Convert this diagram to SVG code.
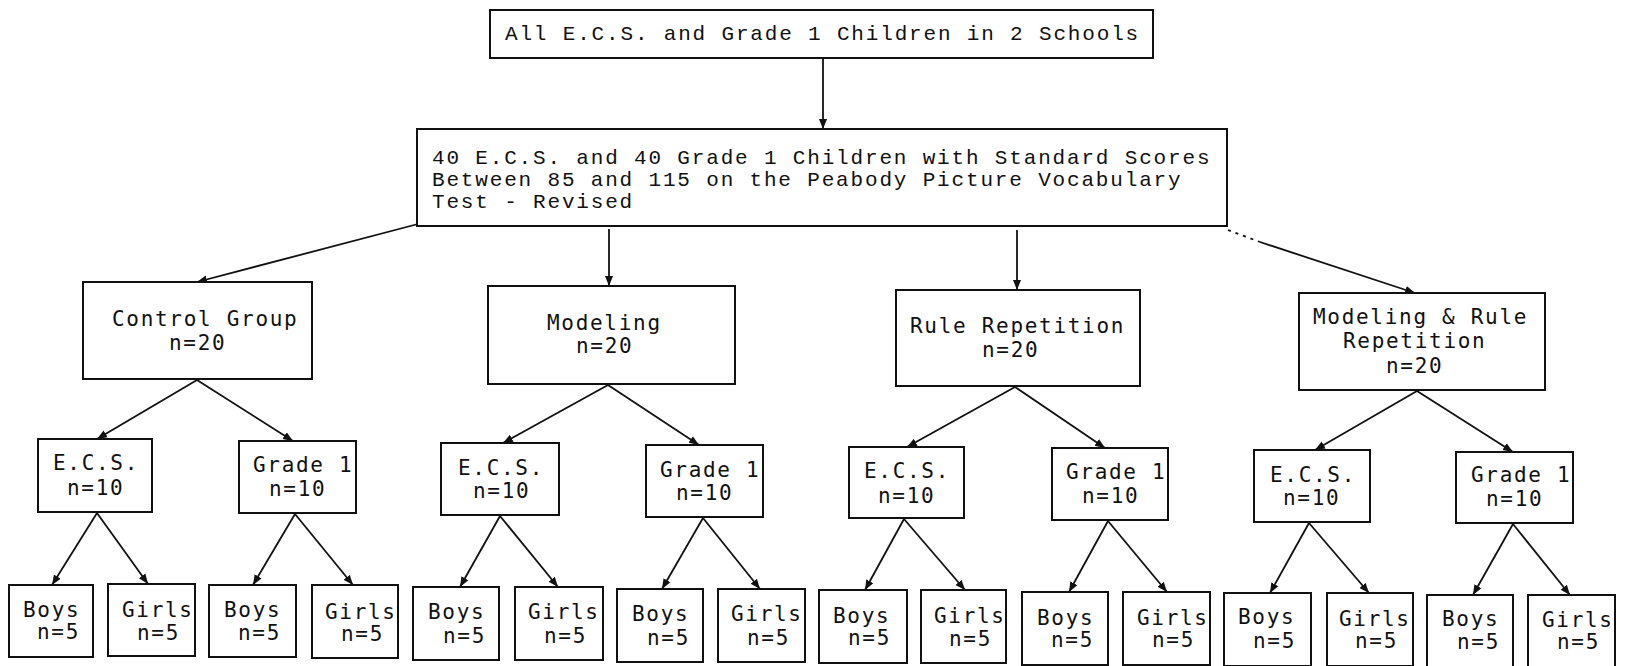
<svg xmlns="http://www.w3.org/2000/svg" width="1625" height="666" viewBox="0 0 1625 666">
<defs>
<marker id="ah" markerUnits="userSpaceOnUse" markerWidth="10" markerHeight="10" viewBox="0 0 10 10" refX="10" refY="5" orient="auto">
<path d="M0,1 L10,5 L0,9 Z" fill="#111"/>
</marker>
</defs>
<style>
rect{fill:#fff;stroke:#111;stroke-width:2}
.c line{stroke:#111;stroke-width:1.8;marker-end:url(#ah)}
.c line.nd{marker-end:none;stroke-dasharray:3 5}
.t{font-family:"Liberation Mono","Courier New",monospace;font-size:21px;letter-spacing:1.83px;fill:#111}
.s{font-family:"DejaVu Sans Mono","Liberation Mono",monospace;font-size:21px;letter-spacing:1.7px;fill:#111}
</style>
<rect x="0" y="0" width="1625" height="666" style="stroke:none"/>
<g class="c" id="connectors">
<line x1="823" y1="58" x2="823" y2="129"/>
<line x1="418" y1="224" x2="197" y2="282"/>
<line x1="609" y1="229" x2="609" y2="286"/>
<line x1="1017" y1="230" x2="1017" y2="290"/>
<line class="nd" x1="1228" y1="230" x2="1260" y2="242"/>
<line x1="1260" y1="242" x2="1415" y2="293"/>
<line x1="197" y1="380" x2="97" y2="439"/>
<line x1="197" y1="380" x2="293" y2="441"/>
<line x1="608" y1="385" x2="503" y2="443"/>
<line x1="608" y1="385" x2="699" y2="445"/>
<line x1="1015" y1="387" x2="907" y2="447"/>
<line x1="1015" y1="387" x2="1105" y2="448"/>
<line x1="1417" y1="391" x2="1315" y2="450"/>
<line x1="1417" y1="391" x2="1513" y2="452"/>
<line x1="97" y1="513" x2="52" y2="585"/>
<line x1="97" y1="513" x2="148" y2="584"/>
<line x1="295" y1="514" x2="253" y2="585"/>
<line x1="295" y1="514" x2="353" y2="585"/>
<line x1="500" y1="516" x2="460" y2="587"/>
<line x1="500" y1="516" x2="558" y2="587"/>
<line x1="703" y1="518" x2="662" y2="589"/>
<line x1="703" y1="518" x2="760" y2="589"/>
<line x1="904" y1="519" x2="865" y2="590"/>
<line x1="904" y1="519" x2="965" y2="590"/>
<line x1="1108" y1="521" x2="1069" y2="592"/>
<line x1="1108" y1="521" x2="1167" y2="592"/>
<line x1="1309" y1="523" x2="1270" y2="593"/>
<line x1="1309" y1="523" x2="1369" y2="593"/>
<line x1="1513" y1="524" x2="1473" y2="595"/>
<line x1="1513" y1="524" x2="1570" y2="595"/>
</g>
<g id="all"><rect x="490" y="10" width="663" height="48"/><text class="t" x="505" y="40">All E.C.S. and Grade 1 Children in 2 Schools</text></g>
<g id="selected"><rect x="417" y="129" width="810" height="97"/>
<text class="t" x="432" y="164">40 E.C.S. and 40 Grade 1 Children with Standard Scores</text>
<text class="t" x="432" y="186">Between 85 and 115 on the Peabody Picture Vocabulary</text>
<text class="t" x="432" y="208">Test - Revised</text></g>
<g id="control"><rect x="83" y="282" width="229" height="97"/><text class="s" x="112" y="326">Control Group</text><text class="s" x="169" y="350">n=20</text></g>
<g id="modeling"><rect x="488" y="286" width="247" height="98"/><text class="s" x="547" y="330">Modeling</text><text class="s" x="576" y="353">n=20</text></g>
<g id="rule"><rect x="896" y="290" width="244" height="96"/><text class="s" x="910" y="333">Rule Repetition</text><text class="s" x="982" y="357">n=20</text></g>
<g id="modrule"><rect x="1299" y="293" width="246" height="97"/><text class="s" x="1313" y="324">Modeling &amp; Rule</text><text class="s" x="1343" y="348">Repetition</text><text class="s" x="1386" y="373">n=20</text></g>
<g id="ecs1"><rect x="38" y="439" width="114" height="73"/><text class="s" x="53" y="470">E.C.S.</text><text class="s" x="67" y="495">n=10</text></g>
<g id="g1a"><rect x="239" y="441" width="117" height="72"/><text class="s" x="253" y="472">Grade 1</text><text class="s" x="269" y="496">n=10</text></g>
<g id="ecs2"><rect x="441" y="443" width="118" height="72"/><text class="s" x="458" y="475">E.C.S.</text><text class="s" x="473" y="498">n=10</text></g>
<g id="g1b"><rect x="646" y="445" width="117" height="72"/><text class="s" x="660" y="477">Grade 1</text><text class="s" x="676" y="500">n=10</text></g>
<g id="ecs3"><rect x="849" y="447" width="115" height="71"/><text class="s" x="864" y="478">E.C.S.</text><text class="s" x="878" y="503">n=10</text></g>
<g id="g1c"><rect x="1052" y="448" width="116" height="72"/><text class="s" x="1066" y="479">Grade 1</text><text class="s" x="1082" y="503">n=10</text></g>
<g id="ecs4"><rect x="1254" y="450" width="116" height="72"/><text class="s" x="1270" y="482">E.C.S.</text><text class="s" x="1283" y="505">n=10</text></g>
<g id="g1d"><rect x="1456" y="452" width="117" height="71"/><text class="s" x="1471" y="482">Grade 1</text><text class="s" x="1486" y="506">n=10</text></g>
<g id="l1"><rect x="9" y="585" width="84" height="72"/><text class="s" x="23" y="617">Boys</text><text class="s" x="37" y="639">n=5</text></g>
<g id="l2"><rect x="108" y="584" width="87" height="72"/><text class="s" x="122" y="617">Girls</text><text class="s" x="137" y="640">n=5</text></g>
<g id="l3"><rect x="209" y="585" width="87" height="72"/><text class="s" x="224" y="617">Boys</text><text class="s" x="238" y="640">n=5</text></g>
<g id="l4"><rect x="312" y="585" width="86" height="73"/><text class="s" x="325" y="619">Girls</text><text class="s" x="341" y="641">n=5</text></g>
<g id="l5"><rect x="413" y="587" width="86" height="73"/><text class="s" x="428" y="619">Boys</text><text class="s" x="443" y="643">n=5</text></g>
<g id="l6"><rect x="515" y="587" width="88" height="73"/><text class="s" x="528" y="619">Girls</text><text class="s" x="544" y="643">n=5</text></g>
<g id="l7"><rect x="617" y="589" width="86" height="73"/><text class="s" x="632" y="621">Boys</text><text class="s" x="647" y="645">n=5</text></g>
<g id="l8"><rect x="718" y="589" width="87" height="73"/><text class="s" x="731" y="621">Girls</text><text class="s" x="747" y="645">n=5</text></g>
<g id="l9"><rect x="819" y="590" width="88" height="73"/><text class="s" x="833" y="623">Boys</text><text class="s" x="848" y="645">n=5</text></g>
<g id="l10"><rect x="921" y="590" width="85" height="73"/><text class="s" x="934" y="623">Girls</text><text class="s" x="949" y="646">n=5</text></g>
<g id="l11"><rect x="1022" y="592" width="86" height="73"/><text class="s" x="1037" y="625">Boys</text><text class="s" x="1051" y="647">n=5</text></g>
<g id="l12"><rect x="1123" y="592" width="87" height="73"/><text class="s" x="1137" y="625">Girls</text><text class="s" x="1152" y="647">n=5</text></g>
<g id="l13"><rect x="1224" y="593" width="87" height="73"/><text class="s" x="1238" y="624">Boys</text><text class="s" x="1253" y="648">n=5</text></g>
<g id="l14"><rect x="1327" y="593" width="86" height="73"/><text class="s" x="1339" y="626">Girls</text><text class="s" x="1355" y="648">n=5</text></g>
<g id="l15"><rect x="1427" y="595" width="86" height="73"/><text class="s" x="1442" y="626">Boys</text><text class="s" x="1457" y="649">n=5</text></g>
<g id="l16"><rect x="1528" y="595" width="87" height="73"/><text class="s" x="1542" y="627">Girls</text><text class="s" x="1557" y="649">n=5</text></g>
</svg>
